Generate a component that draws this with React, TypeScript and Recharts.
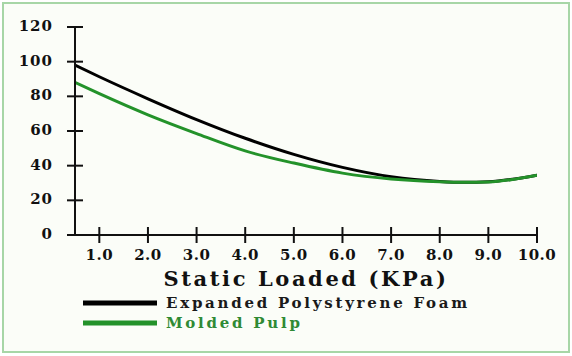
import React from 'react';
import { LineChart, Line, XAxis, YAxis, Legend } from 'recharts';

const loadValues = [0.5, 1, 2, 3, 4, 5, 6, 7, 8, 8.5, 9, 10];
const epsValues = [98, 91.3, 78.6, 66.6, 55.8, 46.5, 39, 33.6, 30.9, 30.4, 30.7, 34.5];
const pulpValues = [88, 81.5, 69.3, 58.5, 48.5, 41.5, 35.7, 32.3, 30.7, 30.4, 30.6, 34.5];
const xTicks = [1, 2, 3, 4, 5, 6, 7, 8, 9, 10];
const yTicks = [0, 20, 40, 60, 80, 100, 120];
const seriesNames = ['Expanded Polystyrene Foam', 'Molded Pulp'];
const xTitle = 'Static Loaded (KPa)';

const data = loadValues.map((x, i) => ({ x, eps: epsValues[i], pulp: pulpValues[i] }));

const FONT = '"DejaVu Serif", serif';
const GREEN = '#23922a';

const YTick = (props: any) => {
  const { x, y, payload } = props;
  return (
    <g>
      <line x1={x - 8} x2={x + 8} y1={y} y2={y} stroke="#111" strokeWidth={2} />
      <text x={x - 22} y={y} dy={4} textAnchor="end" fontFamily={FONT} fontWeight="bold" fontSize={15} letterSpacing={1} fill="#111">
        {payload.value}
      </text>
    </g>
  );
};

const XTick = (props: any) => {
  const { x, y, payload } = props;
  return (
    <g>
      <line x1={x} x2={x} y1={y - 8} y2={y + 8} stroke="#111" strokeWidth={2} />
      <text x={x} y={y + 25} textAnchor="middle" fontFamily={FONT} fontWeight="bold" fontSize={15} letterSpacing={0.5} fill="#111">
        {Number(payload.value).toFixed(1)}
      </text>
    </g>
  );
};

const renderTitle = (props: any) => {
  const vb = props.viewBox || {};
  return (
    <text x={vb.x + vb.width / 2} y={vb.y + 51} textAnchor="middle" fontFamily={FONT} fontWeight="bold" fontSize={21} letterSpacing={2.6} fill="#111">
      {xTitle}
    </text>
  );
};

const renderLegend = () => {
  const colors = ['#000', GREEN];
  const textColors = ['#1a1a1a', '#2f8a34'];
  return (
    <div>
      {seriesNames.map((name, i) => (
        <div key={name} style={{ position: 'relative', height: 20 }}>
          <svg width={80} height={20} style={{ position: 'absolute', left: 83, top: 0 }}>
            <rect x={0} y={7.5} width={74} height={5} fill={colors[i]} />
          </svg>
          <span
            style={{
              position: 'absolute',
              left: 166,
              top: 0,
              lineHeight: '20px',
              fontFamily: FONT,
              fontWeight: 'bold',
              fontSize: 15,
              letterSpacing: 2.75,
              color: textColors[i],
              whiteSpace: 'nowrap',
            }}
          >
            {name}
          </span>
        </div>
      ))}
    </div>
  );
};

export default function App() {
  return (
    <div style={{ position: 'absolute', left: 0, top: 0, width: 572, height: 356, background: '#fff' }}>
      <div
        style={{
          position: 'absolute',
          left: 2,
          top: 2,
          width: 564,
          height: 347,
          border: '2px solid #a7d6a7',
          background: '#fbfdf8',
        }}
      />
      <div style={{ position: 'absolute', left: 0, top: 0 }}>
        <LineChart width={572} height={356} data={data} margin={{ top: 27, right: 35, left: 0, bottom: 61 }}>
          <XAxis
            dataKey="x"
            type="number"
            domain={[0.5, 10]}
            ticks={xTicks}
            allowDataOverflow
            height={60}
            tickSize={0}
            tickMargin={0}
            tickLine={false}
            axisLine={{ stroke: '#111', strokeWidth: 2 }}
            tick={<XTick />}
            interval={0}
            label={renderTitle}
          />
          <YAxis
            type="number"
            domain={[0, 120]}
            ticks={yTicks}
            width={75}
            tickSize={0}
            tickMargin={0}
            tickLine={false}
            axisLine={{ stroke: '#111', strokeWidth: 2 }}
            tick={<YTick />}
            interval={0}
          />
          <Line type="monotone" dataKey="eps" name={seriesNames[0]} stroke="#000" strokeWidth={3} dot={false} isAnimationActive={false} />
          <Line type="monotone" dataKey="pulp" name={seriesNames[1]} stroke={GREEN} strokeWidth={3} dot={false} isAnimationActive={false} />
          <Legend
            layout="vertical"
            verticalAlign="middle"
            align="center"
            content={renderLegend}
            wrapperStyle={{ left: 0, top: 292.7, width: 572, height: 40 }}
          />
        </LineChart>
      </div>
    </div>
  );
}
